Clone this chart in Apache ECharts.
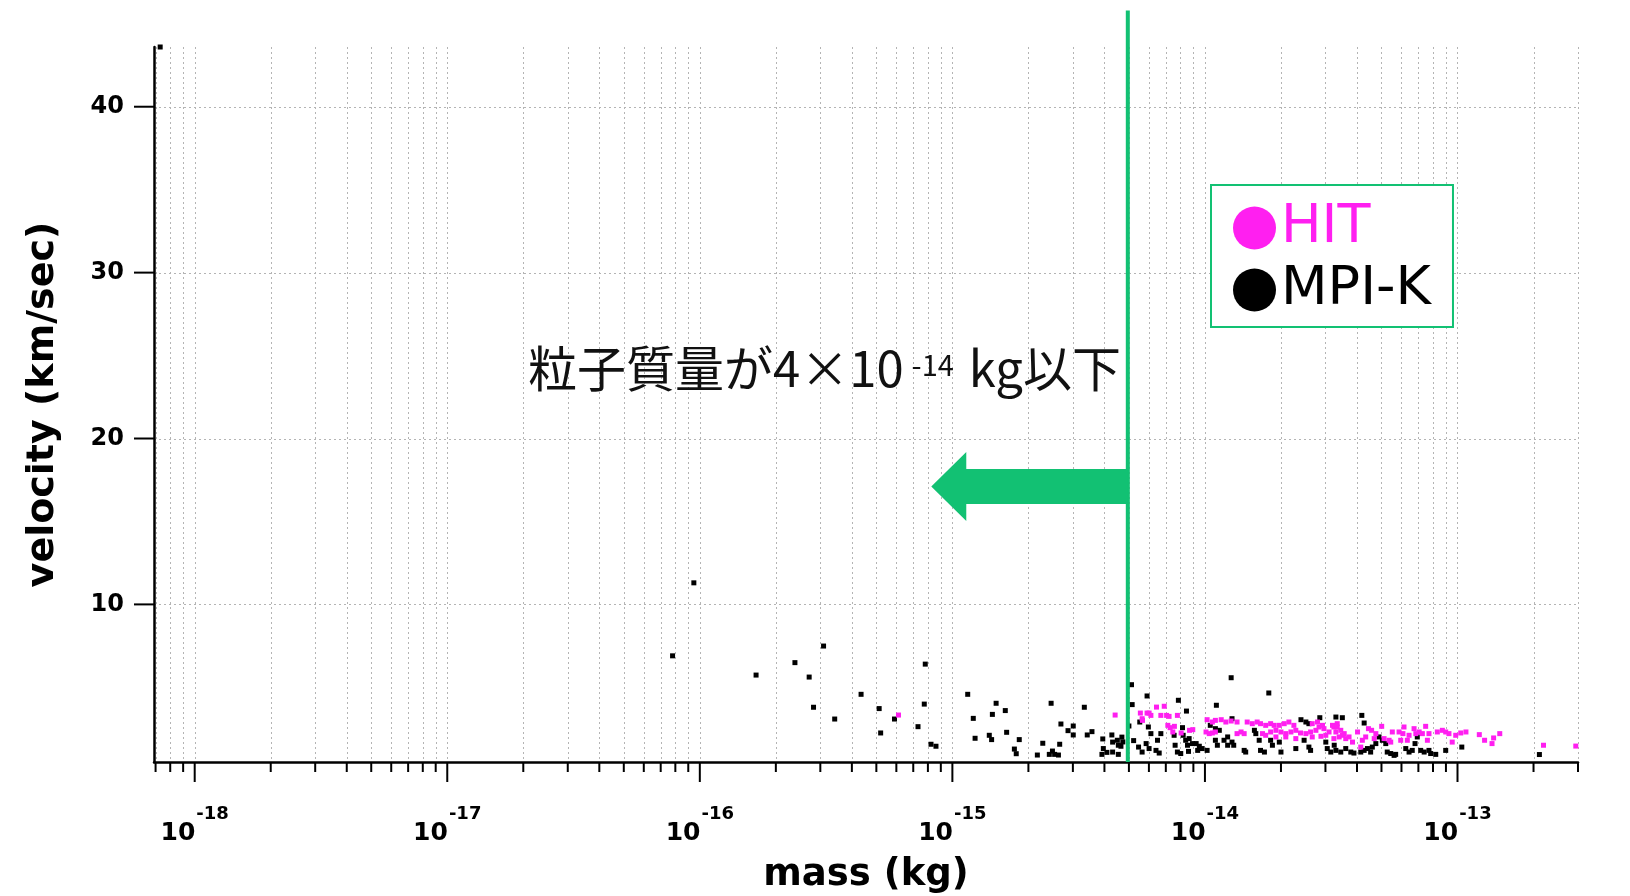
<!DOCTYPE html>
<html>
<head>
<meta charset="utf-8">
<script src="https://cdn.jsdelivr.net/npm/echarts@6/dist/echarts.min.js"></script>
<style>
html,body{margin:0;padding:0;background:#fff;}
#chart{width:1630px;height:896px;}
</style>
</head>
<body>
<div id="chart"></div>
<script>
// ---------------- data ----------------
const X_MIN = 6.9e-19, X_MAX = 3e-13;       // mass axis extent (kg)
const Y_MIN = 0.5, Y_MAX = 43.6;            // velocity axis extent (km/sec)
const X_LABEL_VALUES = [1e-18, 1e-17, 1e-16, 1e-15, 1e-14, 1e-13];
const X_TICK_MANTISSAS = [1, 2, 3, 4, 5, 6, 7, 8, 9];
const X_TICK_DECADES = [-19, -18, -17, -16, -15, -14, -13];
const Y_TICK_VALUES = [10, 20, 30, 40];
const THRESHOLD_MASS = 4.95e-15;
const ARROW_TIP_MASS = 8.25e-16;
const ARROW_VELOCITY = 17.1;
const ANNOTATION_TEXT = ['粒子質量が4×10', '-14', ' kg以下'];
const SERIES_NAMES = ['HIT', 'MPI-K'];

const MPIK_POINTS = [
  [7.3e-19, 43.6], [9.47e-17, 11.3], [7.8e-17, 6.9], [1.67e-16, 5.74], [2.38e-16, 6.49],
  [3.09e-16, 7.49], [2.71e-16, 5.62], [2.82e-16, 3.80], [3.42e-16, 3.09], [4.35e-16, 4.58],
  [5.13e-16, 3.72], [5.2e-16, 2.25], [5.9e-16, 3.09], [7.81e-16, 6.40], [7.74e-16, 3.99],
  [7.31e-16, 2.63], [8.23e-16, 1.57], [8.61e-16, 1.45], [1.15e-15, 4.58], [1.21e-15, 3.13],
  [1.23e-15, 1.93], [1.49e-15, 4.04], [1.44e-15, 3.37], [1.62e-15, 3.60], [1.40e-15, 2.11],
  [1.43e-15, 1.85], [1.64e-15, 2.29], [1.84e-15, 1.85], [1.76e-15, 1.28], [1.79e-15, 1.0],
  [2.17e-15, 0.92], [2.28e-15, 1.63], [2.46e-15, 4.04], [2.42e-15, 0.96], [2.49e-15, 1.16],
  [2.54e-15, 0.96], [2.63e-15, 0.92], [2.66e-15, 1.57], [2.69e-15, 2.79], [2.87e-15, 2.39],
  [3.01e-15, 2.67], [3.01e-15, 2.13], [3.33e-15, 3.80], [3.42e-15, 2.13], [3.57e-15, 2.33],
  [3.94e-15, 1.89], [3.96e-15, 1.31], [3.91e-15, 0.96], [4.09e-15, 1.08], [4.28e-15, 2.13],
  [4.31e-15, 1.70], [4.5e-15, 1.81], [4.69e-15, 2.0], [4.65e-15, 1.45], [4.54e-15, 0.96],
  [5.12e-15, 5.16], [5.15e-15, 3.96], [5.0e-15, 2.67], [5.22e-15, 1.79], [5.9e-15, 4.48],
  [5.52e-15, 2.91], [5.46e-15, 1.40], [5.64e-15, 1.10], [5.85e-15, 1.61], [5.97e-15, 2.61],
  [4.54e-15, 1.51], [4.31e-15, 1.10], [4.73e-15, 1.71],
  [6.01e-15, 1.31], [6.11e-15, 2.21], [6.69e-15, 2.21], [6.49e-15, 1.81], [6.59e-15, 1.04],
  [6.40e-15, 1.20], [7.85e-15, 4.22], [8.45e-15, 3.57], [8.15e-15, 2.57], [8.2e-15, 2.11],
  [7.55e-15, 2.11], [7.62e-15, 1.51], [7.78e-15, 1.10], [8.02e-15, 1.01], [8.39e-15, 1.81],
  [8.66e-15, 1.91], [8.53e-15, 1.51], [8.93e-15, 1.61], [8.61e-15, 1.14], [9.23e-15, 1.61],
  [9.36e-15, 1.20], [9.5e-15, 1.45], [9.75e-15, 1.31], [1.02e-14, 1.20], [1.11e-14, 3.92],
  [1.05e-14, 2.71], [1.10e-14, 2.51], [1.14e-14, 2.41], [1.12e-14, 1.51], [1.10e-14, 1.81],
  [1.19e-14, 1.81], [1.23e-14, 2.01], [1.28e-14, 1.70], [1.30e-14, 1.51], [1.23e-14, 1.51],
  [1.28e-14, 3.11], [1.27e-14, 5.58], [1.43e-14, 1.20], [1.45e-14, 1.10], [1.57e-14, 2.41],
  [1.59e-14, 2.21], [1.64e-14, 1.81], [1.66e-14, 1.20], [1.72e-14, 1.10], [1.79e-14, 4.66],
  [1.82e-14, 1.81], [1.85e-14, 1.51], [1.97e-14, 1.70], [2.0e-14, 1.10], [2.29e-14, 1.31],
  [2.47e-14, 1.81], [2.58e-14, 1.40], [2.62e-14, 1.20], [2.40e-14, 3.05], [2.51e-14, 2.91],
  [2.58e-14, 2.81], [2.85e-14, 3.17], [3.01e-14, 1.70], [3.05e-14, 1.31], [3.15e-14, 1.10],
  [3.30e-14, 3.21], [3.25e-14, 1.51],
  [3.50e-14, 3.17], [4.18e-14, 3.31], [4.27e-14, 2.85], [3.30e-14, 1.20], [3.45e-14, 1.10],
  [3.61e-14, 1.31], [3.78e-14, 1.10], [3.89e-14, 1.04], [4.14e-14, 1.10], [4.27e-14, 1.20],
  [4.40e-14, 1.31], [4.53e-14, 1.10], [4.60e-14, 1.40], [4.75e-14, 1.61], [4.89e-14, 2.01],
  [5.04e-14, 1.81], [5.20e-14, 1.61], [5.27e-14, 1.10], [5.44e-14, 1.01], [5.61e-14, 0.90],
  [5.69e-14, 0.96], [6.24e-14, 1.31], [6.43e-14, 1.10], [6.62e-14, 1.20], [6.79e-14, 1.61],
  [6.93e-14, 2.01], [7.15e-14, 1.20], [7.38e-14, 1.10], [7.71e-14, 1.20], [7.83e-14, 1.01],
  [8.20e-14, 0.96], [8.98e-14, 1.20], [1.04e-13, 1.40], [2.11e-13, 0.95]
];

const HIT_POINTS = [
  [6.12e-16, 3.33], [4.41e-15, 3.33], [5.55e-15, 3.45], [5.64e-15, 3.11], [5.9e-15, 3.45],
  [6.01e-15, 3.45], [6.11e-15, 3.31], [6.43e-15, 3.81], [6.90e-15, 3.86], [7.05e-15, 3.31],
  [7.21e-15, 3.25], [7.78e-15, 3.31], [6.69e-15, 3.31], [5.66e-15, 3.01], [7.13e-15, 2.71],
  [7.28e-15, 2.57], [7.57e-15, 2.65], [7.46e-15, 2.31], [8.05e-15, 2.25], [8.69e-15, 2.41],
  [8.95e-15, 2.45], [1.02e-14, 3.05], [1.07e-14, 2.91], [1.10e-14, 3.01], [1.16e-14, 3.05],
  [1.21e-14, 2.91], [1.27e-14, 2.97], [1.34e-14, 2.91], [1.01e-14, 2.31], [1.04e-14, 2.21],
  [1.07e-14, 2.25], [1.10e-14, 2.31], [1.34e-14, 2.21], [1.39e-14, 2.31], [1.43e-14, 2.21],
  [1.47e-14, 2.91], [1.54e-14, 2.81], [1.61e-14, 2.91], [1.66e-14, 2.81], [1.74e-14, 2.71],
  [1.82e-14, 2.81], [1.88e-14, 2.71], [1.97e-14, 2.71], [1.69e-14, 2.21], [1.74e-14, 2.11],
  [1.82e-14, 2.31], [1.91e-14, 2.41], [2.0e-14, 2.31], [2.09e-14, 2.21], [2.19e-14, 2.31],
  [2.29e-14, 2.41], [2.39e-14, 2.25], [2.51e-14, 2.21], [2.62e-14, 2.31], [2.75e-14, 2.41],
  [2.83e-14, 2.61], [2.96e-14, 2.51], [3.10e-14, 2.31], [3.24e-14, 2.61], [3.34e-14, 2.81],
  [2.06e-14, 2.81], [2.15e-14, 2.91], [2.25e-14, 2.71], [2.66e-14, 2.81], [2.79e-14, 2.91],
  [2.92e-14, 2.71], [1.91e-14, 2.01], [2.09e-14, 2.01], [2.29e-14, 1.91], [2.66e-14, 2.01],
  [2.88e-14, 2.05], [3.01e-14, 2.11], [3.20e-14, 2.71], [3.30e-14, 2.31], [3.40e-14, 2.01],
  [3.50e-14, 2.11], [3.61e-14, 1.91], [3.72e-14, 2.01], [3.34e-14, 2.61], [3.45e-14, 2.41],
  [3.56e-14, 2.21], [3.24e-14, 1.91], [3.84e-14, 1.70], [4.02e-14, 2.31], [4.14e-14, 1.40],
  [4.20e-14, 1.81], [4.33e-14, 2.01], [4.44e-14, 2.51], [4.57e-14, 2.41], [4.68e-14, 1.91],
  [4.75e-14, 2.21], [5.01e-14, 2.65], [5.12e-14, 1.91], [5.36e-14, 1.81], [5.44e-14, 1.70],
  [5.52e-14, 2.31], [5.87e-14, 2.31], [5.96e-14, 1.81], [6.08e-14, 2.21], [6.33e-14, 1.81],
  [6.14e-14, 2.61], [6.43e-14, 2.11], [6.73e-14, 2.51], [6.84e-14, 2.21], [7.05e-14, 2.31],
  [7.26e-14, 2.21], [7.48e-14, 2.65], [7.60e-14, 1.81], [7.71e-14, 2.21], [8.32e-14, 2.31],
  [8.71e-14, 2.41], [8.98e-14, 2.31], [9.25e-14, 2.21], [9.53e-14, 1.70], [9.84e-14, 2.11],
  [1.03e-13, 2.25], [1.08e-13, 2.31], [1.22e-13, 2.15], [1.28e-13, 1.81], [1.37e-13, 1.61],
  [1.39e-13, 1.95], [1.47e-13, 2.21], [2.19e-13, 1.51], [2.94e-13, 1.46]
];

// ---------------- styling ----------------
const GREEN = '#12c173';
const MAGENTA = '#ff1ff0';
const GRID_COLOR = '#b4b4b4';
const FONT = '"DejaVu Sans", sans-serif';
const CJK = '"Noto Sans CJK JP", sans-serif';
const LINE_TOP_V = 45.8;

// build tick list (axis structure)
const X_TICK_VALUES = [];
X_TICK_DECADES.forEach(function (d) {
  X_TICK_MANTISSAS.forEach(function (m) {
    const v = m * Math.pow(10, d);
    if (v > X_MIN * 1.01 && v <= X_MAX * 1.0001) X_TICK_VALUES.push(v);
  });
});

function isPow10(v) {
  const lg = Math.log10(v);
  return Math.abs(lg - Math.round(lg)) < 1e-6;
}

const chart = echarts.init(document.getElementById('chart'), null, {renderer: 'canvas'});

const option = {
  animation: false,
  backgroundColor: '#fff',
  grid: {left: 154, right: 52, top: 47, bottom: 134, containLabel: false, outerBoundsMode: 'none'},
  xAxis: {
    type: 'log', logBase: 10, min: X_MIN, max: X_MAX, z: 3,
    name: 'mass (kg)', nameLocation: 'middle', nameGap: 95,
    nameTextStyle: {fontSize: 37, fontWeight: 'bold', color: '#000', fontFamily: FONT},
    axisLine: {show: true, lineStyle: {color: '#000', width: 2.5}},
    axisTick: {show: false},
    splitLine: {show: false},
    minorTick: {show: false},
    axisLabel: {
      margin: 51,
      formatter: function (v) {
        if (!isPow10(v)) return '';
        const e = Math.round(Math.log10(v));
        return X_LABEL_VALUES.some(function (x) { return Math.abs(Math.log10(x) - e) < 1e-6; })
          ? '{b|10}{s|' + e + '}' : '';
      },
      rich: {
        b: {fontSize: 25, fontWeight: 'bold', color: '#000', fontFamily: FONT, lineHeight: 25,
            padding: [16, 0, 0, 0]},
        s: {fontSize: 18, fontWeight: 'bold', color: '#000', fontFamily: FONT, lineHeight: 18,
            padding: [0, 0, 23, 1]}
      }
    }
  },
  yAxis: {
    type: 'value', min: Y_MIN, max: Y_MAX, z: 3,
    name: 'velocity (km/sec)', nameLocation: 'middle', nameGap: 92,
    nameTextStyle: {fontSize: 38, fontWeight: 'bold', color: '#000', fontFamily: FONT},
    axisLine: {show: true, lineStyle: {color: '#000', width: 2.5}},
    axisTick: {show: false},
    splitLine: {show: false},
    axisLabel: {
      margin: 30, fontSize: 24, fontWeight: 'bold', color: '#000', fontFamily: FONT,
      formatter: function (v) {
        return Y_TICK_VALUES.indexOf(Math.round(v * 1000) / 1000) >= 0 ? String(v) : '';
      }
    }
  },
  legend: {
    data: [
      {name: SERIES_NAMES[0], textStyle: {color: MAGENTA}},
      {name: SERIES_NAMES[1], textStyle: {color: '#000'}}
    ],
    orient: 'vertical', left: 1211, top: 185,
    icon: 'circle', itemWidth: 43, itemHeight: 43, itemGap: 8,
    padding: [16, 22, 10, 22],
    borderColor: GREEN, borderWidth: 2, borderRadius: 0, backgroundColor: '#fff',
    selectedMode: false,
    itemStyle: {opacity: 1},
    textStyle: {fontSize: 54, fontFamily: FONT, lineHeight: 43}
  },
  graphic: [{
    type: 'text', left: 528, top: 341, silent: true, z: 10,
    style: {
      text: '{a|' + ANNOTATION_TEXT[0] + '}{s|' + ANNOTATION_TEXT[1] + '}{a|' + ANNOTATION_TEXT[2] + '}',
      rich: {
        a: {fontSize: 49, fontFamily: CJK, fill: '#111', lineHeight: 54},
        s: {fontSize: 29, fontFamily: CJK, fill: '#111', lineHeight: 29,
            padding: [9, 4, 16, 8]}
      }
    }
  }],
  series: [
    {
      // vertical grid lines + x ticks
      type: 'custom', name: 'xgrid', silent: true, clip: false, z: 1,
      data: X_TICK_VALUES.map(function (v) { return [v, Y_MIN]; }),
      renderItem: function (params, api) {
        const m = api.value(0);
        const p = api.coord([m, Y_MIN]);
        const cs = params.coordSys;
        const x = Math.round(p[0]) + 0.5;
        const bottom = cs.y + cs.height;
        const len = isPow10(m) ? 20 : 10;
        return {type: 'group', children: [
          {type: 'line', shape: {x1: x, y1: cs.y, x2: x, y2: bottom},
           style: {stroke: GRID_COLOR, lineWidth: 1, lineDash: [2, 3]}},
          {type: 'line', shape: {x1: p[0], y1: bottom, x2: p[0], y2: bottom + len},
           style: {stroke: '#000', lineWidth: 2}}
        ]};
      }
    },
    {
      // horizontal grid lines + y ticks
      type: 'custom', name: 'ygrid', silent: true, clip: false, z: 1,
      data: Y_TICK_VALUES.map(function (v) { return [X_MIN, v]; }),
      renderItem: function (params, api) {
        const p = api.coord([X_MIN, api.value(1)]);
        const cs = params.coordSys;
        const y = Math.round(p[1]) + 0.5;
        return {type: 'group', children: [
          {type: 'line', shape: {x1: cs.x, y1: y, x2: cs.x + cs.width, y2: y},
           style: {stroke: GRID_COLOR, lineWidth: 1, lineDash: [2, 3]}},
          {type: 'line', shape: {x1: cs.x - 20, y1: p[1], x2: cs.x, y2: p[1]},
           style: {stroke: '#000', lineWidth: 2}}
        ]};
      }
    },
    {
      type: 'scatter', name: SERIES_NAMES[1], z: 3,
      symbol: 'rect', symbolSize: 5,
      itemStyle: {color: '#000', opacity: 1},
      data: MPIK_POINTS
    },
    {
      type: 'scatter', name: SERIES_NAMES[0], z: 4,
      symbol: 'rect', symbolSize: 5,
      itemStyle: {color: MAGENTA, opacity: 1},
      data: HIT_POINTS
    },
    {
      // threshold line
      type: 'custom', name: 'threshold', silent: true, clip: false, z: 6,
      data: [[THRESHOLD_MASS, Y_MIN]],
      renderItem: function (params, api) {
        const p0 = api.coord([api.value(0), Y_MIN]);
        const p1 = api.coord([api.value(0), LINE_TOP_V]);
        return {type: 'line', shape: {x1: p0[0], y1: p0[1], x2: p1[0], y2: p1[1]},
                style: {stroke: GREEN, lineWidth: 4}};
      }
    },
    {
      // arrow pointing toward smaller masses
      type: 'custom', name: 'arrow', silent: true, clip: false, z: 6,
      data: [[THRESHOLD_MASS, ARROW_VELOCITY, ARROW_TIP_MASS]],
      renderItem: function (params, api) {
        const tail = api.coord([api.value(0), api.value(1)]);
        const tip = api.coord([api.value(2), api.value(1)]);
        const headLen = 35, headHalf = 34.5, bodyHalf = 17.5;
        const y = tail[1];
        const hb = tip[0] + headLen;
        return {type: 'polygon', shape: {points: [
          [tip[0], y], [hb, y - headHalf], [hb, y - bodyHalf], [tail[0], y - bodyHalf],
          [tail[0], y + bodyHalf], [hb, y + bodyHalf], [hb, y + headHalf]
        ]}, style: {fill: GREEN}};
      }
    }
  ]
};

chart.setOption(option);
</script>
</body>
</html>
